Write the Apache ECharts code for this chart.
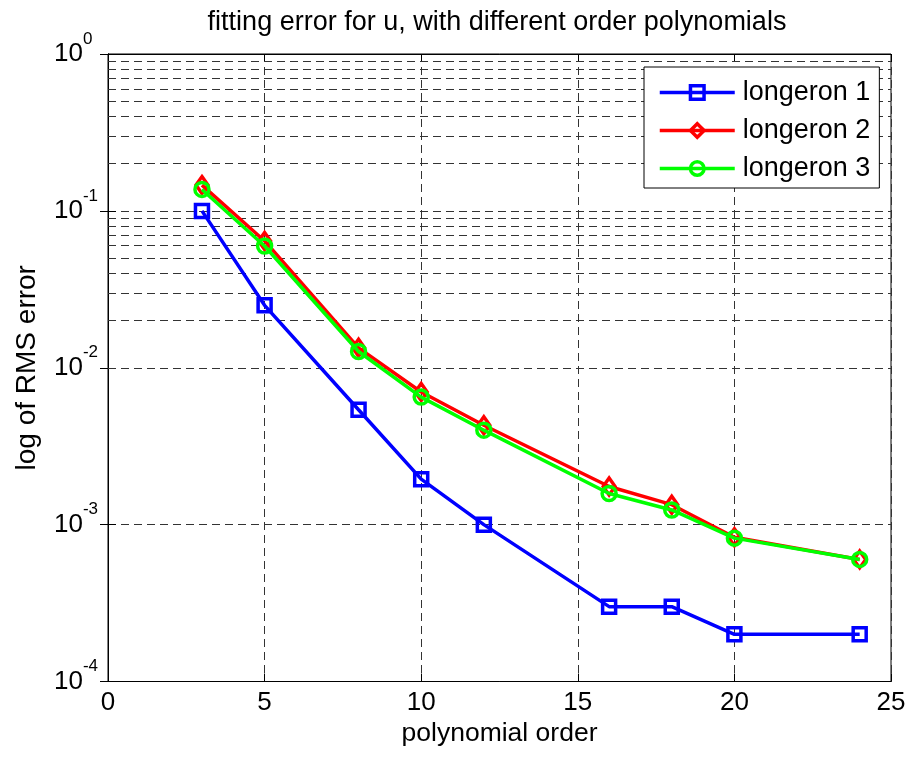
<!DOCTYPE html>
<html>
<head>
<meta charset="utf-8">
<script src="https://cdn.jsdelivr.net/npm/echarts@6/dist/echarts.min.js"></script>
<style>
html,body{margin:0;padding:0;background:#fff;}
#chart{width:912px;height:760px;}
</style>
</head>
<body>
<div id="chart"></div>
<script>
var ORDERS = [3, 5, 8, 10, 12, 16, 18, 20, 24];
var LONGERON_1 = [0.1, 0.025, 0.0054, 0.00195, 0.001, 0.0003, 0.0003, 0.0002, 0.0002];
var LONGERON_2 = [0.146, 0.0643, 0.0134, 0.0070, 0.0043, 0.00175, 0.00134, 0.00083, 0.0006];
var LONGERON_3 = [0.137, 0.0597, 0.0127, 0.0065, 0.0040, 0.00158, 0.00124, 0.00082, 0.0006];
var SERIES_NAMES = ['longeron 1', 'longeron 2', 'longeron 3'];
var X_TICKS = [0, 5, 10, 15, 20, 25];
var Y_DECADES = [1e-4, 1e-3, 1e-2, 1e-1, 1];
var MINOR_MULT = [2, 3, 4, 5, 6, 7, 8, 9];

var minorVals = [];
for (var d = 0; d < Y_DECADES.length - 1; d++) {
  for (var m = 0; m < MINOR_MULT.length; m++) {
    minorVals.push(MINOR_MULT[m] * Y_DECADES[d]);
  }
}

function pairs(ys) {
  return ORDERS.map(function (x, i) { return [x, ys[i]]; });
}

var FONT = 'Liberation Sans, Arial, sans-serif';
var DASH = [8, 5];
var GRIDC = '#333';
var LW = 3.5;

var chart = echarts.init(document.getElementById('chart'), null, {renderer: 'canvas'});
chart.setOption({
  backgroundColor: '#fff',
  animation: false,
  textStyle: {fontFamily: FONT},
  title: {
    text: 'fitting error for u, with different order polynomials',
    left: 492, top: 4, textAlign: 'center',
    textStyle: {fontFamily: FONT, fontSize: 27, fontWeight: 'normal', color: '#000'}
  },
  grid: {left: 108, right: 21, top: 54, bottom: 78.5, show: true, borderColor: '#000', borderWidth: 1, backgroundColor: 'transparent'},
  legend: {
    orient: 'vertical', left: 644, top: 67,
    itemWidth: 75, itemHeight: 17, itemGap: 11,
    padding: [12, 9, 6, 14],
    backgroundColor: '#fff', borderColor: '#000', borderWidth: 1,
    lineStyle: {width: LW},
    itemStyle: {borderWidth: LW, color: 'rgba(0,0,0,0)'},
    textStyle: {fontFamily: FONT, fontSize: 27, color: '#000', padding: [0, 0, 0, 3]},
    data: SERIES_NAMES
  },
  xAxis: [{
    type: 'value', min: X_TICKS[0], max: X_TICKS[X_TICKS.length - 1], interval: 5,
    name: 'polynomial order', nameLocation: 'middle', nameGap: 33,
    nameTextStyle: {fontFamily: FONT, fontSize: 26.5, color: '#000'},
    axisLine: {show: true, lineStyle: {color: '#000', width: 1}},
    axisTick: {show: true, inside: true, length: 8, lineStyle: {color: '#000'}},
    axisLabel: {fontFamily: FONT, fontSize: 26, color: '#000', margin: 8},
    splitLine: {show: true, lineStyle: {color: GRIDC, type: DASH, width: 1}}
  }, {
    type: 'value', position: 'top', min: X_TICKS[0], max: X_TICKS[X_TICKS.length - 1], interval: 5,
    axisLine: {show: true, lineStyle: {color: '#000'}},
    axisTick: {show: true, inside: true, length: 8, lineStyle: {color: '#000'}},
    axisLabel: {show: false}, splitLine: {show: false}
  }],
  yAxis: [{
    type: 'log', logBase: 10, min: Y_DECADES[0], max: Y_DECADES[Y_DECADES.length - 1],
    name: 'log of RMS error', nameLocation: 'middle', nameGap: 67,
    nameTextStyle: {fontFamily: FONT, fontSize: 28, color: '#000'},
    axisLine: {show: true, lineStyle: {color: '#000', width: 1}},
    axisTick: {show: true, inside: true, length: 8, lineStyle: {color: '#000'}},
    axisLabel: {
      margin: 54, align: 'left',
      formatter: function (v) {
        var e = Math.round(Math.log(v) / Math.LN10);
        return '{b|10}{s|' + e + '}';
      },
      rich: {
        b: {fontFamily: FONT, fontSize: 26, color: '#000'},
        s: {fontFamily: FONT, fontSize: 17, color: '#000', padding: [0, 0, 30, 0]}
      }
    },
    splitLine: {show: true, lineStyle: {color: GRIDC, type: DASH, width: 1}}
  }, {
    type: 'log', logBase: 10, position: 'right', min: Y_DECADES[0], max: Y_DECADES[Y_DECADES.length - 1],
    axisLine: {show: true, lineStyle: {color: '#000'}},
    axisTick: {show: true, inside: true, length: 8, lineStyle: {color: '#000'}},
    axisLabel: {show: false}, splitLine: {show: false}
  }],
  series: [{
    name: SERIES_NAMES[0], type: 'line', data: pairs(LONGERON_1),
    symbol: 'rect', symbolSize: 13, showAllSymbol: true,
    lineStyle: {color: '#0000ff', width: LW},
    itemStyle: {color: 'rgba(0,0,0,0)', borderColor: '#0000ff', borderWidth: LW},
    z: 3,
    markLine: {
      silent: true, symbol: ['none', 'none'], z: 1, animation: false,
      label: {show: false},
      lineStyle: {color: GRIDC, type: DASH, width: 1},
      emphasis: {disabled: true},
      data: minorVals.map(function (v) { return {yAxis: v}; })
    }
  }, {
    name: SERIES_NAMES[1], type: 'line', data: pairs(LONGERON_2),
    symbol: 'diamond', symbolSize: [12, 17], showAllSymbol: true,
    lineStyle: {color: '#ff0000', width: LW},
    itemStyle: {color: 'rgba(0,0,0,0)', borderColor: '#ff0000', borderWidth: LW},
    z: 4
  }, {
    name: SERIES_NAMES[2], type: 'line', data: pairs(LONGERON_3),
    symbol: 'circle', symbolSize: 14, showAllSymbol: true,
    lineStyle: {color: '#00ff00', width: LW},
    itemStyle: {color: 'rgba(0,0,0,0)', borderColor: '#00ff00', borderWidth: LW},
    z: 5
  }]
});
</script>
</body>
</html>
